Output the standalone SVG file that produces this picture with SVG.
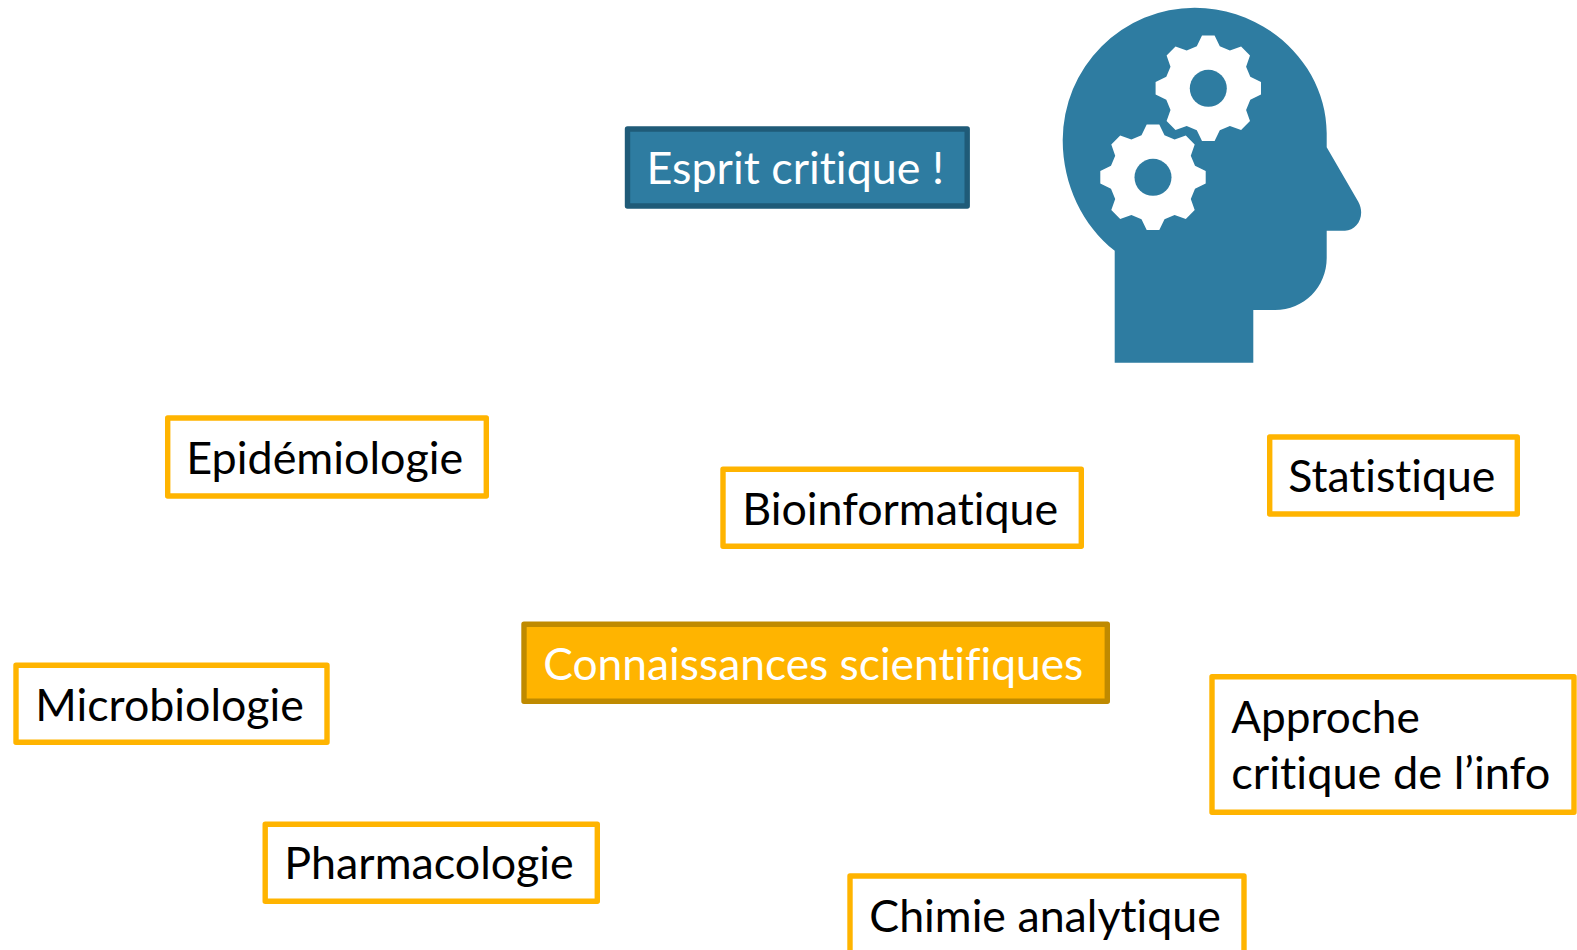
<svg xmlns="http://www.w3.org/2000/svg" width="1577" height="950" viewBox="0 0 1577 950">
<style>
.box{fill:#fff;stroke:#FFB400;stroke-width:5.4;stroke-linejoin:round}
.t{font-family:Lato,"Carlito","Open Sans",sans-serif;font-size:44.5px;fill:#000;font-variant-ligatures:none}
.w{fill:#fff}
.head{fill:#2E7CA1}
</style>
<defs>
<g id="gear">
<polygon fill="#fff" points="-6.3,-52.7 6.3,-52.7 11.5,-42 21.6,-37.8 32.8,-41.7 41.7,-32.8 37.8,-21.6 42,-11.5 52.7,-6.3 52.7,6.3 42,11.5 37.8,21.6 41.7,32.8 32.8,41.7 21.6,37.8 11.5,42 6.3,52.7 -6.3,52.7 -11.5,42 -21.6,37.8 -32.8,41.7 -41.7,32.8 -37.8,21.6 -42,11.5 -52.7,6.3 -52.7,-6.3 -42,-11.5 -37.8,-21.6 -41.7,-32.8 -32.8,-41.7 -21.6,-37.8 -11.5,-42"/>
<circle class="head" r="18.5"/>
</g>
</defs>
<g id="head-icon">
<path class="head" d="M1114.7 362.7V250.7C1083 226 1062.7 185 1062.7 140A132 132.700 0 0 1 1194.700 7.700C1267.600 7.700 1326.700 66 1326.700 133V147.300L1358.300 201.700C1366 216 1357 230.700 1345 230.700H1326.700V258C1326.700 287 1304 310 1275 310H1253.300V362.700Z"/>
<use href="#gear" x="1208.300" y="88.300"/>
<use href="#gear" x="1153" y="177.300"/>
</g>
<g id="connectors"></g>
<g id="esprit">
<rect x="627.500" y="129" width="339.700" height="77" fill="#2E7CA1" stroke="#1F5B78" stroke-width="5.400" stroke-linejoin="round"/>
<text class="t w" x="646.500" y="184" textLength="297.500" lengthAdjust="spacingAndGlyphs">Esprit critique !</text>
</g>
<g id="epidemiologie">
<rect class="box" x="167.700" y="418" width="318.600" height="78"/>
<text class="t" x="186.300" y="474" textLength="277" lengthAdjust="spacingAndGlyphs">Epidémiologie</text>
</g>
<g id="bioinformatique">
<rect class="box" x="723" y="469.300" width="358.300" height="77"/>
<text class="t" x="742.200" y="525" textLength="316" lengthAdjust="spacingAndGlyphs">Bioinformatique</text>
</g>
<g id="statistique">
<rect class="box" x="1269.700" y="437" width="247.600" height="77"/>
<text class="t" x="1288.300" y="492" textLength="207" lengthAdjust="spacingAndGlyphs">Statistique</text>
</g>
<g id="connaissances">
<rect x="524" y="624.200" width="583.300" height="77" fill="#FFB400" stroke="#BF8A00" stroke-width="5.400" stroke-linejoin="round"/>
<text class="t w" x="543.300" y="680" textLength="540" lengthAdjust="spacingAndGlyphs">Connaissances scientifiques</text>
</g>
<g id="microbiologie">
<rect class="box" x="16" y="665.300" width="311" height="77"/>
<text class="t" x="35.300" y="720.500" textLength="268.500" lengthAdjust="spacingAndGlyphs">Microbiologie</text>
</g>
<g id="approche">
<rect class="box" x="1212" y="676.700" width="362" height="135.600"/>
<text class="t" x="1231.300" y="733" textLength="188.500" lengthAdjust="spacingAndGlyphs">Approche</text>
<text class="t" x="1231.300" y="789" textLength="319" lengthAdjust="spacingAndGlyphs">critique de l’info</text>
</g>
<g id="pharmacologie">
<rect class="box" x="265.200" y="824.300" width="332.100" height="77"/>
<text class="t" x="284.300" y="879" textLength="289.500" lengthAdjust="spacingAndGlyphs">Pharmacologie</text>
</g>
<g id="chimie">
<rect class="box" x="850" y="876" width="394" height="90"/>
<text class="t" x="869.300" y="931.500" textLength="351.500" lengthAdjust="spacingAndGlyphs">Chimie analytique</text>
</g>
</svg>
